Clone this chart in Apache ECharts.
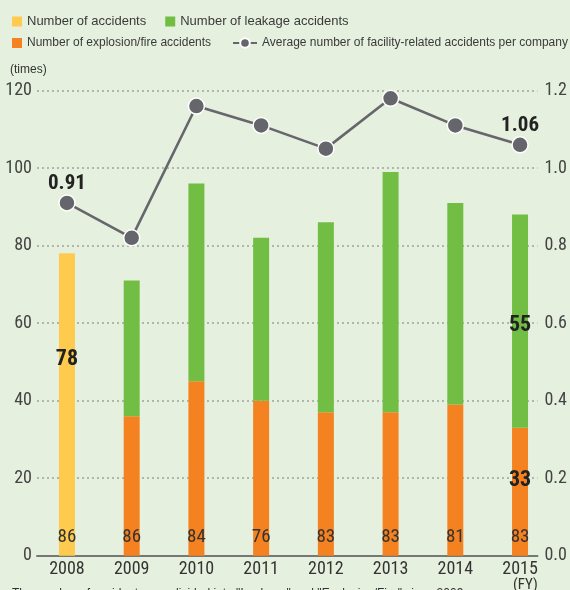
<!DOCTYPE html>
<html>
<head>
<meta charset="utf-8">
<script src="https://cdn.jsdelivr.net/npm/echarts@6/dist/echarts.min.js"></script>
<style>
  html, body { margin: 0; padding: 0; background: #e6f0de; }
  #chart { width: 570px; height: 590px; }
</style>
</head>
<body>
<div id="chart"></div>
<script>
// ---- data ----
const years = ['2008', '2009', '2010', '2011', '2012', '2013', '2014', '2015'];
const totalAccidents = [78, null, null, null, null, null, null, null];      // before split
const explosionFire = [null, 36, 45, 40, 37, 37, 39, 33];
const leakage = [null, 35, 51, 42, 49, 62, 52, 55];
const avgPerCompany = [0.91, 0.82, 1.16, 1.11, 1.05, 1.18, 1.11, 1.06];
const companies = ['86', '86', '84', '76', '83', '83', '81', '83'];
const leftTicks = { min: 0, max: 120, interval: 20 };
const rightTicks = { min: 0, max: 1.2, interval: 0.2 };

const NARROW = '"Liberation Sans Narrow", "Roboto Condensed", "DejaVu Sans Condensed", "Liberation Sans", sans-serif';
const REG = '"Liberation Sans", Arial, sans-serif';
const last = years.length - 1;

const chart = echarts.init(document.getElementById('chart'), null, { renderer: 'canvas' });

const gridTop = 90.5, gridBottom = 34.3;
const boldLabel = { fontFamily: NARROW, fontWeight: 'bold', fontSize: 22, color: '#222' };

chart.setOption({
  backgroundColor: '#e6f0de',
  animation: false,
  grid: [
    { left: 37, right: 29, top: gridTop, bottom: gridBottom },
    { left: 34.6, right: 17.6, top: gridTop, bottom: gridBottom }
  ],
  legend: [
    {
      left: 12, top: 15, padding: 0, itemWidth: 10, itemHeight: 10, itemGap: 19,
      icon: 'rect',
      data: ['Number of accidents', 'Number of leakage accidents'],
      textStyle: { fontFamily: REG, fontSize: 13, color: '#3a3a3a' }
    },
    {
      left: 12, top: 37, padding: 0, itemWidth: 10, itemHeight: 10,
      icon: 'rect',
      data: ['Number of explosion/fire accidents'],
      textStyle: { fontFamily: REG, fontSize: 12, color: '#3a3a3a' }
    },
    {
      left: 232, top: 37, padding: 0, itemWidth: 24, itemHeight: 12,
      data: ['Average number of facility-related accidents per company'],
      textStyle: { fontFamily: REG, fontSize: 12, color: '#3a3a3a' }
    }
  ],
  xAxis: [
    {
      gridIndex: 0, type: 'category', data: years, position: 'bottom',
      axisLine: { show: true, lineStyle: { color: '#777', width: 2 } },
      axisTick: { show: false }, axisLabel: { show: false }, splitLine: { show: false }
    },
    {
      gridIndex: 1, type: 'category', data: years, position: 'bottom',
      axisLine: { show: false }, axisTick: { show: false },
      axisLabel: { margin: 5, fontFamily: NARROW, fontSize: 18, color: '#333' }
    },
    {
      gridIndex: 1, type: 'category', data: years, position: 'bottom', z: 10,
      axisLine: { show: false }, axisTick: { show: false },
      axisLabel: {
        inside: true, margin: 9, fontFamily: NARROW, fontSize: 19, color: '#333',
        formatter: (v, i) => companies[i]
      }
    }
  ],
  yAxis: [
    {
      gridIndex: 0, type: 'value', position: 'left',
      min: leftTicks.min, max: leftTicks.max, interval: leftTicks.interval,
      axisLine: { show: false }, axisTick: { show: false },
      axisLabel: { margin: 5, fontFamily: NARROW, fontSize: 18, color: '#444' },
      splitLine: { show: true, lineStyle: { color: '#a0a39c', width: 1.5, type: [2, 3] } }
    },
    {
      gridIndex: 0, type: 'value', position: 'right',
      min: rightTicks.min, max: rightTicks.max, interval: rightTicks.interval,
      axisLine: { show: false }, axisTick: { show: false },
      axisLabel: { margin: 7, fontFamily: NARROW, fontSize: 18, color: '#444', formatter: v => v.toFixed(1) },
      splitLine: { show: false }
    },
    { gridIndex: 1, type: 'value', position: 'left', show: false,
      min: leftTicks.min, max: leftTicks.max, interval: leftTicks.interval },
    { gridIndex: 1, type: 'value', position: 'right', show: false,
      min: rightTicks.min, max: rightTicks.max, interval: rightTicks.interval }
  ],
  series: [
    {
      name: 'Number of accidents', type: 'bar', stack: 'a', xAxisIndex: 1, yAxisIndex: 2,
      barWidth: 16, data: totalAccidents,
      itemStyle: { color: '#fecb4e' },
      label: { show: true, position: 'inside', offset: [0, -45], ...boldLabel,
        formatter: p => p.dataIndex === 0 ? String(p.value) : '' }
    },
    {
      name: 'Number of explosion/fire accidents', type: 'bar', stack: 'a', xAxisIndex: 1, yAxisIndex: 2,
      barWidth: 16, data: explosionFire,
      itemStyle: { color: '#f58220' },
      label: { show: true, position: 'inside', offset: [0, -11], ...boldLabel,
        formatter: p => p.dataIndex === last ? String(p.value) : '' }
    },
    {
      name: 'Number of leakage accidents', type: 'bar', stack: 'a', xAxisIndex: 1, yAxisIndex: 2,
      barWidth: 16, data: leakage,
      itemStyle: { color: '#72be44' },
      label: { show: true, position: 'inside', offset: [0, 4], ...boldLabel,
        formatter: p => p.dataIndex === last ? String(p.value) : '' }
    },
    {
      name: 'Average number of facility-related accidents per company', type: 'line',
      xAxisIndex: 1, yAxisIndex: 3, data: avgPerCompany, z: 5,
      symbol: 'circle', symbolSize: 16,
      lineStyle: { color: '#66666c', width: 2.6 },
      itemStyle: { color: '#65656c', borderColor: '#ffffff', borderWidth: 1.5 },
      label: { show: true, position: 'top', distance: 0, ...boldLabel, fontSize: 21,
        formatter: p => (p.dataIndex === 0 || p.dataIndex === last) ? p.value.toFixed(2) : '' }
    }
  ],
  graphic: [
    { type: 'text', left: 10, top: 64,
      style: { text: '(times)', fontFamily: REG, fontSize: 12, fill: '#333' } },
    { type: 'text', left: 513, top: 578,
      style: { text: '(FY)', fontFamily: NARROW, fontSize: 15, fill: '#333' } },
    { type: 'text', left: 12, top: 588,
      style: { text: 'The number of accidents was divided into "Leakage" and "Explosion/Fire" since 2009.', fontFamily: REG, fontSize: 12, fill: '#333' } }
  ]
});
</script>
</body>
</html>
